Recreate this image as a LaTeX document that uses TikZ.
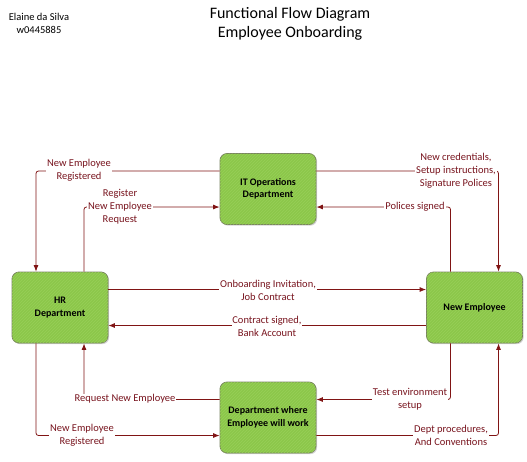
\documentclass[tikz,border=0pt]{standalone}
\usepackage{fontspec}
\setmainfont{Carlito}
\usetikzlibrary{arrows.meta,shadows,patterns}
\definecolor{boxfill}{RGB}{140,199,74}
\definecolor{boxstripe}{RGB}{152,207,88}
\definecolor{boxline}{RGB}{120,130,95}
\definecolor{conncol}{RGB}{128,20,20}
\definecolor{lblcol}{RGB}{120,20,30}
\tikzset{
  box/.style={draw=boxline, line width=0.8pt, fill=boxfill, rounded corners=7pt,
    minimum width=96pt, minimum height=71pt, align=center,
    font=\fontsize{10}{12.5}\selectfont\bfseries,
    drop shadow={shadow xshift=1.2pt, shadow yshift=-1.2pt, opacity=0.35},
    postaction={pattern=north east lines, pattern color=boxstripe}},
  conn/.style={draw=conncol, line width=0.8pt, rounded corners=2.5pt,
    -{Latex[length=6.5pt,width=5pt]}},
  plain/.style={draw=conncol, line width=0.8pt, rounded corners=2.5pt},
  lbl/.style={fill=white, inner sep=0.8pt, align=center, text=lblcol,
    font=\fontsize{10.5}{13}\selectfont},
  hdr/.style={align=center, inner sep=0pt}
}
\begin{document}
\begin{tikzpicture}[x=1pt,y=-1pt]
\useasboundingbox (0,0) rectangle (527,461);
% nodes
\node[box] (it) at (268,189) {IT Operations\\Department};
\node[box] (hr) at (60,307.5) {HR\\Department};
\node[box] (ne) at (474.5,307.5) {New Employee};
\node[box] (dept) at (268,417.5) {Department where\\Employee will work};
% connectors
\draw[conn] ([yshift=18pt]it.west) -| ([xshift=-24pt]hr.north);
\draw[conn] ([xshift=24pt]hr.north) |- ([yshift=-18pt]it.west);
\draw[conn] ([yshift=18pt]it.east) -| ([xshift=24pt]ne.north);
\draw[conn] ([xshift=-24pt]ne.north) |- ([yshift=-18pt]it.east);
\draw[conn] ([yshift=18pt]hr.east) -- ([yshift=18pt]ne.west);
\draw[conn] ([yshift=-18pt]ne.west) -- ([yshift=-18pt]hr.east);
\draw[conn] ([yshift=18pt]dept.west) -| ([xshift=24pt]hr.south);
\draw[conn] ([xshift=-24pt]hr.south) |- ([yshift=-18pt]dept.west);
\draw[conn] ([xshift=-24pt]ne.south) |- ([yshift=18pt]dept.east);
\draw[conn] ([yshift=-18pt]dept.east) -| ([xshift=24pt]ne.south);
% labels
\node[lbl] (l1) at (79,170) {New Employee\\Registered};
\node[lbl] (l2) at (120,207) {Register\\New Employee\\Request};
\node[lbl] (l3) at (456,171) {New credentials,\\Setup instructions,\\Signature Polices};
\node[lbl] (l4) at (415,207) {Polices signed};
\node[lbl] (l5) at (268,290) {Onboarding Invitation,\\Job Contract};
\node[lbl] (l6) at (267,326) {Contract signed,\\Bank Account};
\node[lbl] (l7) at (125,399) {Request New Employee};
\node[lbl] (l8) at (82,435) {New Employee\\Registered};
\node[lbl] (l9) at (410,399) {Test environment\\setup};
\node[lbl] (l10) at (451,435) {Dept procedures,\\And Conventions};
% headers
\node[hdr, font=\fontsize{10.5}{13}\selectfont] (author) at (39,23.5) {Elaine da Silva\\w0445885};
\node[hdr, font=\fontsize{16}{19}\selectfont] (title) at (290,23.5) {Functional Flow Diagram\\Employee Onboarding};
\end{tikzpicture}
\end{document}
